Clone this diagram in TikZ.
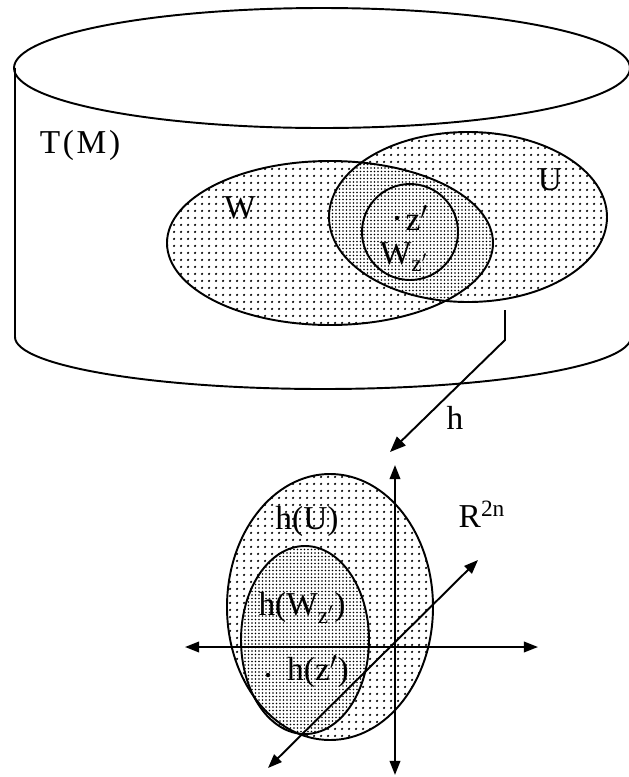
\documentclass[tikz,border=0pt]{standalone}
\usepackage{fontspec}
\setmainfont{Liberation Serif}
\usepackage{tikz}
\usetikzlibrary{arrows.meta,patterns.meta}

\tikzset{
  lbl/.style={font=\fontsize{19}{21}\selectfont, inner sep=0pt},
  sparse/.style={pattern={Dots[distance=1.4mm,radius=0.8pt]}},
  dense/.style={pattern={Dots[distance=0.7mm,radius=0.55pt]}},
  tip/.style={arrows={-Triangle[length=9pt,width=7pt]}},
  axis/.style={arrows={Triangle[length=8pt,width=6pt]-Triangle[length=8pt,width=6pt]}}
}

\begin{document}
\begin{tikzpicture}[x=0.2mm,y=-0.2mm,line width=1.1pt]
\useasboundingbox (0,0) rectangle (628,777);
% cylinder T(M)
\draw (322,68) ellipse [x radius=308,y radius=60];
\draw (15,68) -- (15,337) arc[start angle=180,end angle=0,x radius=308,y radius=52];
% W and U, the overlap is dense
\fill[sparse] (330,243) ellipse [x radius=163,y radius=82];
\fill[sparse] (468,217) ellipse [x radius=139,y radius=85];
\begin{scope}
  \clip (330,243) ellipse [x radius=163,y radius=82];
  \fill[white] (468,217) ellipse [x radius=139,y radius=85];
  \fill[dense] (468,217) ellipse [x radius=139,y radius=85];
\end{scope}
\draw (330,243) ellipse [x radius=163,y radius=82];
\draw (468,217) ellipse [x radius=139,y radius=85];
\draw (410,232) circle [radius=48];
\fill (397,218) circle (2.2);
% images in R^2n
\fill[sparse] (330,607) ellipse [x radius=103,y radius=133];
\fill[white] (305,640) ellipse [x radius=64,y radius=94];
\fill[dense] (305,640) ellipse [x radius=64,y radius=94];
\draw (330,607) ellipse [x radius=103,y radius=133];
\draw (305,640) ellipse [x radius=64,y radius=94];
\fill (268,675) circle (2.2);
% map h
\coordinate (hfrom) at (505,310);
\coordinate (hbend) at (505,340);
\coordinate (hto) at (390,452);
\draw[tip] (hfrom) -- (hbend) -- (hto);
% axes
\coordinate (xa) at (185,647);
\coordinate (xb) at (538,647);
\coordinate (ya) at (395,775);
\coordinate (yb) at (395,465);
\coordinate (za) at (268,768);
\coordinate (zb) at (478,560);
\foreach \s/\e in {xa/xb, ya/yb, za/zb}
  \draw[axis] (\s) -- (\e);
% labels
\node[lbl] (tm) at (80,145) {\addfontfeature{LetterSpace=8}T(M)};
\node[lbl] (w) at (240,208) {W};
\node[lbl] (u) at (550,180) {U};
\node[lbl] (z) at (417,218) {z$'$};
\node[lbl] (wz) at (404,257) {W\textsubscript{z$'$}};
\node[lbl] (h) at (455,418) {h};
\node[lbl] (r) at (482,514) {R\textsuperscript{2n}};
\node[lbl] (hu) at (307,521) {h(U)};
\node[lbl] (hw) at (302,608) {h(W\textsubscript{z$'$})};
\node[lbl] (hz) at (318,672) {h(z$'$)};
\end{tikzpicture}
\end{document}
